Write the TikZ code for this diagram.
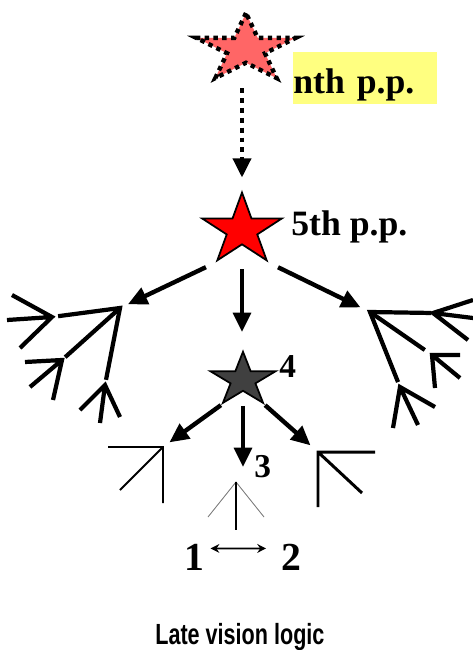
\documentclass[tikz,border=0pt]{standalone}
\usepackage{fontspec}
\setmainfont{Liberation Serif}
\newfontfamily\latefont[FakeStretch=0.74]{Liberation Sans Bold}
\usetikzlibrary{shapes.geometric, arrows.meta, positioning, calc}
\definecolor{nthred}{RGB}{255,102,102}
\definecolor{nthyellow}{RGB}{255,255,128}
\definecolor{darkstar}{RGB}{64,64,64}
\tikzset{
    pstar/.style={
        star,
        star points=5,
        star point ratio=2.618,
        inner sep=0pt,
        transform shape,
        draw=black,
        line width=1pt,
    },
    lbl/.style={
        inner sep=0pt,
        anchor=base west,
        font=\fontsize{20.3pt}{22pt}\selectfont\bfseries,
    },
    num/.style={
        lbl,
        font=\fontsize{19pt}{20pt}\selectfont\bfseries,
    },
    fan/.style={
        line width=2.4pt,
    },
    arr/.style={
        ->,
        line width=2.5pt,
    },
}

\begin{document}
\begin{tikzpicture}[x=0.02cm, y=-0.02cm, >={Triangle[width=10pt,length=11pt]}]
      \useasboundingbox (0,0) rectangle (473,650);

      \node [pstar, fill=nthred, minimum size=1.44cm, xscale=1.45, line width=2.5pt, dash pattern=on 2.5pt off 2.5pt] (nth) at (246,49) {};
      \node [pstar, fill=red, minimum size=1.5cm, xscale=1.12] (pp5) at (242,230) {};
      \node [pstar, fill=darkstar, minimum size=1.13cm, xscale=1.21] (st4) at (243,380) {};

      \node [lbl, fill=nthyellow, anchor=north west, text height=0.82cm, text depth=0.21cm, text width=2.88cm, align=left] (lnth) at (293,52) {nth p.p.};
      \node [lbl] (l5) at (291,235) {5th p.p.};
      \node [num] (l4) at (279,377) {4};
      \node [num] (l3) at (254,477) {3};
      \node [lbl, font=\fontsize{22.6pt}{24pt}\selectfont\bfseries] (n1) at (184,570) {1};
      \node [lbl, font=\fontsize{22.6pt}{24pt}\selectfont\bfseries] (n2) at (281,570) {2};
      \node [anchor=base west, inner sep=0pt, font=\latefont\fontsize{16.6pt}{18pt}\selectfont] (title) at (155,644) {Late vision logic};

      \coordinate (lhub) at (120,308);
      \coordinate (rhub) at (370,312);
      \coordinate (la1) at (52,317);
      \coordinate (la2) at (62,360);
      \coordinate (la3) at (105,385);
      \coordinate (ra1) at (433,313);
      \coordinate (ra2) at (432,355);
      \coordinate (ra3) at (400,387);
      \coordinate (ljun) at (163,447);
      \coordinate (mjun) at (236,482);
      \coordinate (rjun) at (318,452);

      % arrows between the levels
      \draw [arr, line width=2.8pt, dash pattern=on 2.8pt off 2.8pt, shorten <=13pt, shorten >=6.8pt] (nth.south -| pp5) -- (pp5.north);
      \draw [arr, shorten <=6pt, shorten >=5pt] (pp5.outer point 3) -- (lhub);
      \draw [arr, shorten <=6pt, shorten >=6pt] (pp5.outer point 4) -- (rhub);
      \draw [arr, shorten <=13.6pt, shorten >=9.6pt] (pp5.south) -- (pp5.south |- st4.north);
      \draw [arr, shorten >=4.5pt] (st4.outer point 3) -- (ljun);
      \draw [arr, shorten <=8pt, shorten >=8.5pt] (st4.south) -- (st4.south |- mjun);
      \draw [arr, shorten >=5.7pt] (st4.outer point 4) -- (rjun);
      \draw [{Stealth[length=5pt,width=5pt]}-{Stealth[length=5pt,width=5pt]}, line width=1pt, shorten <=3.4pt, shorten >=8.5pt] ([yshift=4.8pt]n1.east) -- ([yshift=4.8pt]n2.west);

      % left fan
      \draw [fan, shorten <=3.5pt, shorten >=3pt] (la1) -- (lhub) -- (la3);
      \draw [fan, shorten >=2.4pt] (lhub) -- (la2);
      \draw [fan] (12,295) -- (la1) -- (20,348) (la1) -- (7,320);
      \draw [fan] (25,362) -- (la2) -- (53,400) (la2) -- (30,387);
      \draw [fan] (80,410) -- (la3) -- (120,417) (la3) -- (100,423);

      % right fan
      \draw [fan, shorten <=1pt, shorten >=3pt] (ra1) -- (rhub) -- (ra3);
      \draw [fan, shorten >=5pt] (rhub) -- (ra2);
      \draw [fan] (473,300) -- (ra1) -- (468,340) (ra1) -- (473,318);
      \draw [fan] (460,355) -- (ra2) -- (435,388) (ra2) -- (460,378);
      \draw [fan] (393,428) -- (ra3) -- (435,407) (ra3) -- (418,425);

      % junctions under star 4
      \draw [line width=1.1pt] (108,447) -- (ljun) -- (163,503) (ljun) -- (120,490);
      \draw [line width=1.7pt] (375,452) -- (rjun) -- (318,507) (rjun) -- (362,493);
      \draw [line width=0.5pt, gray] (208,517) -- (mjun) -- (264,517);
      \draw [line width=1pt] (mjun) -- (236,530);

    \end{tikzpicture}
\end{document}
